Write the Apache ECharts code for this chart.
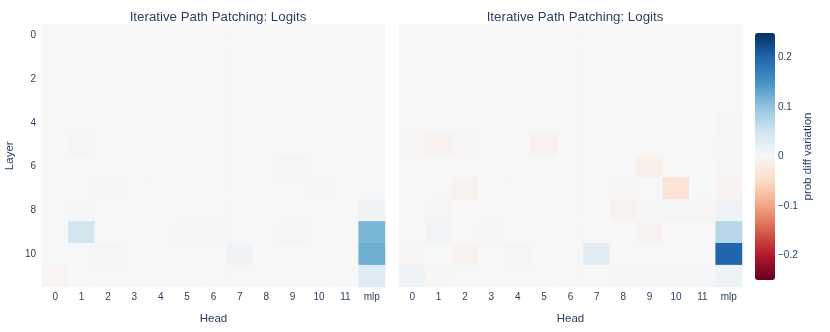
<!DOCTYPE html>
<html>
<head>
<meta charset="utf-8">
<script src="https://cdn.jsdelivr.net/npm/echarts@6/dist/echarts.min.js"></script>
<style>html,body{margin:0;padding:0;background:#fff}#c{width:830px;height:332px}</style>
</head>
<body>
<div id="c"></div>
<script>
const heads = ['0','1','2','3','4','5','6','7','8','9','10','11','mlp'];
const layers = ['0','1','2','3','4','5','6','7','8','9','10','11'];
const colorTicks = [-0.2, -0.1, 0, 0.1, 0.2];
const titleText = 'Iterative Path Patching: Logits';

// rows = layers 0..11, columns = heads 0..11 + mlp
const logitsLeft = [
  [0,0,0,0,0,0,0,0,0,0,0,0,0],
  [0,0,0,0,0,0,0,0,0,0,0,0,0],
  [0,0,0,0,0,0,0,0,0,0,0,0,0],
  [0,0,0,0,0,0,0,0,0,0,0,0,0],
  [0,0,0,0,0,0,0,0,0,0,0,0,0],
  [0,-0.004,0,0,0,0.001,0,0,0,0,0,0,0],
  [0,0,0,0,0,0,0,0,0,-0.004,0,0,0],
  [0,0,-0.003,0,0,0,0,0,0,0,-0.001,0,0],
  [0,-0.001,0,0,0,0,0,0,0,0,0.001,0,0.01],
  [0,0.048,0,0,0,-0.002,0.003,0,0,-0.004,0,0,0.115],
  [0.001,0,-0.003,0,0.001,0,0,0.01,0,0,0,0,0.123],
  [-0.006,0,0,0,0,0,0,0,0.001,0,0,0,0.032]
];
const logitsRight = [
  [0,0,0,0,0,0,0,0,0,0,0,0,0],
  [0,0,0,0,0,0,0,0,0,0,0,0,0],
  [0,0,0,0,0,0,0,0,0,0,0,0,0],
  [0,0,0,0,0.001,0,0,0,0,0,0,0,0],
  [0,0,0,0,0,0,0,0,0,0,0,0,-0.003],
  [-0.002,-0.01,-0.002,0,0,-0.01,0,0,0,0,0,0,-0.002],
  [0,0,0,0,0.001,0.001,0.001,0,0,-0.013,0,0,0.004],
  [0,0.001,-0.009,0.001,0,0,0.001,0.001,-0.002,0,-0.034,0.001,-0.007],
  [0.001,-0.003,0,0,0,0,0.001,0,-0.009,-0.001,0.004,-0.003,0.012],
  [0,0.009,0,-0.001,0,0.001,0.001,0,0,-0.007,0,0,0.072],
  [-0.002,0.001,-0.008,0,0.004,0,0,0.028,0,0,0,0,0.2],
  [0.012,-0.002,0.001,0,0,0,0,0,-0.003,-0.001,0.002,0.002,0.013]
];

const RdBu = ['rgb(103,0,31)','rgb(178,24,43)','rgb(214,96,77)','rgb(244,165,130)','rgb(253,219,199)','rgb(247,247,247)','rgb(209,229,240)','rgb(146,197,222)','rgb(67,147,195)','rgb(33,102,172)','rgb(5,48,97)'];

function toData(m){
  const out = [];
  m.forEach((row, r) => row.forEach((v, c) => out.push([c, r, v])));
  return out;
}
const FONT = 'Liberation Sans, Arial, sans-serif';
const TXT = '#2a3f5f';

function xAx(gi){
  return {
    type:'category', data:heads, gridIndex:gi,
    axisLine:{show:false}, axisTick:{show:false}, splitLine:{show:false},
    axisLabel:{color:TXT, fontSize:10, fontFamily:FONT, margin:5},
    name:'Head', nameLocation:'middle', nameGap:26,
    nameTextStyle:{color:TXT, fontSize:11.5, fontFamily:FONT}
  };
}
const chart = echarts.init(document.getElementById('c'));
chart.setOption({
  backgroundColor:'#fff',
  animation:false,
  title:[
    {text:titleText, left:213, top:6, textAlign:'center', textStyle:{color:TXT, fontSize:13.3, fontWeight:'normal', fontFamily:FONT}},
    {text:titleText, left:570, top:6, textAlign:'center', textStyle:{color:TXT, fontSize:13.3, fontWeight:'normal', fontFamily:FONT}}
  ],
  grid:[
    {left:42, top:24.5, width:343, height:262.5},
    {left:399, top:24.5, width:343, height:262.5},
    {left:755, top:33, width:20, height:247}
  ],
  xAxis:[
    xAx(0), xAx(1),
    {type:'value', gridIndex:2, show:false}
  ],
  yAxis:[
    {type:'category', data:layers, gridIndex:0, inverse:true,
     axisLine:{show:false}, axisTick:{show:false}, splitLine:{show:false},
     axisLabel:{color:TXT, fontSize:10, fontFamily:FONT, margin:6, interval:1},
     name:'Layer', nameLocation:'middle', nameGap:26, nameRotate:90,
     nameTextStyle:{color:TXT, fontSize:11.5, fontFamily:FONT}},
    {type:'category', data:layers, gridIndex:1, inverse:true,
     axisLine:{show:false}, axisTick:{show:false}, splitLine:{show:false},
     axisLabel:{show:false}},
    {type:'value', gridIndex:2, min:-0.25, max:0.25, position:'right',
     axisLine:{show:false}, axisTick:{show:false}, splitLine:{show:false},
     axisLabel:{customValues:colorTicks, color:TXT, fontSize:10, fontFamily:FONT, margin:3,
       formatter:v => (Math.abs(v) < 1e-9 ? '0' : String(+v.toFixed(2)).replace('-', '\u2212'))},
     name:'prob diff variation', nameLocation:'middle', nameGap:27, nameRotate:90,
     nameTextStyle:{color:TXT, fontSize:11.5, fontFamily:FONT}}
  ],
  visualMap:{
    type:'continuous', min:-0.25, max:0.25, seriesIndex:[0,1],
    orient:'vertical', left:750, top:28, itemWidth:20, itemHeight:247,
    calculable:false, text:['',''], showLabel:false, padding:5,
    inRange:{color:RdBu}
  },
  series:[
    {type:'heatmap', xAxisIndex:0, yAxisIndex:0, data:toData(logitsLeft), itemStyle:{borderWidth:0}, emphasis:{disabled:true}},
    {type:'heatmap', xAxisIndex:1, yAxisIndex:1, data:toData(logitsRight), itemStyle:{borderWidth:0}, emphasis:{disabled:true}}
  ]
});
</script>
</body>
</html>
